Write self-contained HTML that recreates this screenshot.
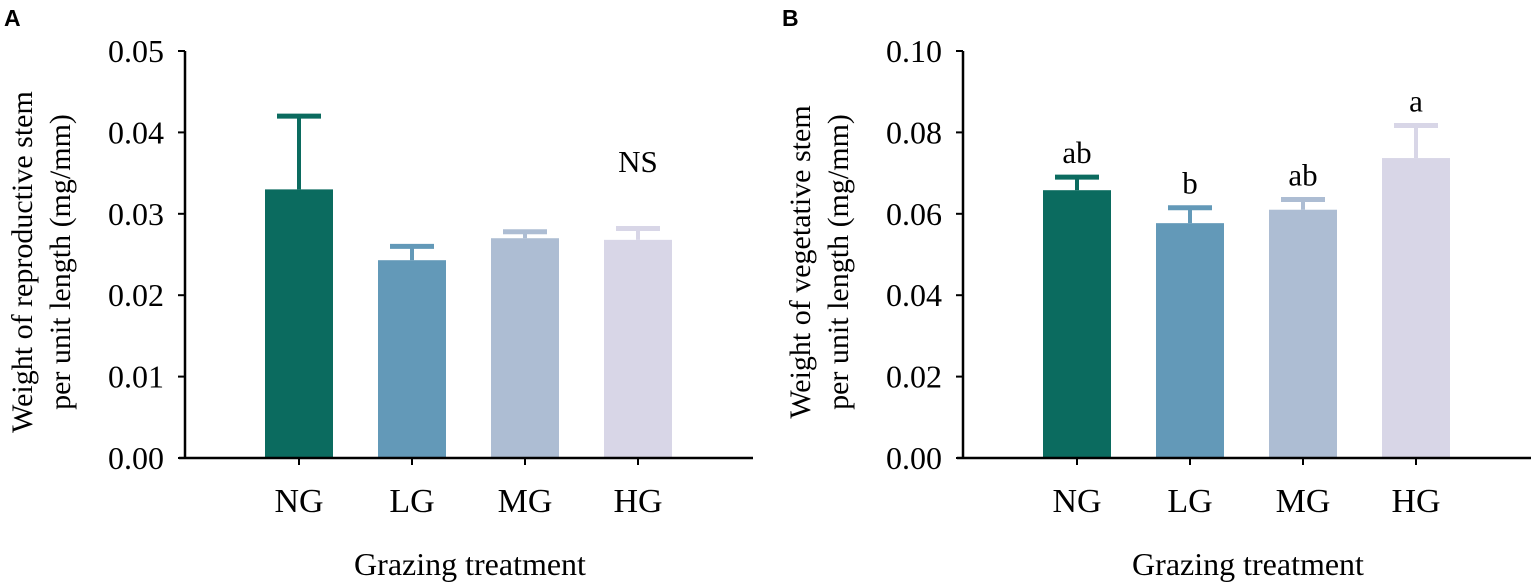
<!DOCTYPE html>
<html><head><meta charset="utf-8"><style>
body{margin:0;background:#fff;}
svg{display:block;font-family:"Liberation Serif",serif;}
</style></head><body>
<svg id="chart" width="1535" height="587" viewBox="0 0 1535 587" xmlns="http://www.w3.org/2000/svg"></svg>
<script>
const categories=["NG","LG","MG","HG"];
const colors=["#0b6b5f","#6399b8","#adbdd3","#d8d6e7"];
const valuesA=[0.033,0.0243,0.0270,0.0268];
const errA=[0.042,0.0260,0.0278,0.0282];
const ticksA=["0.00","0.01","0.02","0.03","0.04","0.05"];
const valuesB=[0.0658,0.0577,0.0610,0.0737];
const errB=[0.0690,0.0615,0.0635,0.0817];
const ticksB=["0.00","0.02","0.04","0.06","0.08","0.10"];
const lettersB=["ab","b","ab","a"];
const svg=document.getElementById('chart');
const NS="http://www.w3.org/2000/svg";
function mk(tag,attrs,parent,text){const e=document.createElementNS(NS,tag);for(const k in attrs)e.setAttribute(k,attrs[k]);if(text!==undefined)e.textContent=text;(parent||svg).appendChild(e);return e;}
function panel(cfg){
 const g=mk('g',{});
 
 
 const x0=cfg.x0,x1=cfg.x0+568,yTop=51,yBot=458,ymax=cfg.ymax;
 const y=v=>yBot-(v/ymax)*(yBot-yTop);
 const bx=i=>x0+80+i*113;
 const bw=68;
 categories.forEach((c,i)=>{
  const top=y(cfg.errs[i]),vy=y(cfg.vals[i]),cx=bx(i)+bw/2;
  const el=mk('line',{x1:cx,x2:cx,y1:top,y2:vy,stroke:colors[i],'stroke-width':4},g);
  
  
  const cap=mk('line',{x1:cx-22,x2:cx+22,y1:top,y2:top,stroke:colors[i],'stroke-width':5},g);
  
  
  const r=mk('rect',{x:bx(i),y:vy,width:bw,height:yBot-vy,fill:colors[i]},g);
  
  
  const xt=mk('line',{x1:cx,x2:cx,y1:yBot,y2:yBot+7,stroke:'#000','stroke-width':2},g);
  
  
  const t=mk('text',{x:cx,y:512,'font-size':34,'text-anchor':'middle'},g,c);
  
  
  if(cfg.letters){
   const l=mk('text',{x:cx,y:top-14,'font-size':31,'text-anchor':'middle'},g,cfg.letters[i]);
   
   
  }
 });
 const ya=mk('line',{x1:x0,x2:x0,y1:yTop,y2:yBot+1,stroke:'#000','stroke-width':2.5},g);
 
 const xa=mk('line',{x1:x0-6,x2:x1,y1:yBot,y2:yBot,stroke:'#000','stroke-width':2.5},g);
 
 cfg.ticks.forEach((tk,i)=>{
  const ty=y(parseFloat(tk));
  const tl=mk('line',{x1:x0-7,x2:x0,y1:ty,y2:ty,stroke:'#000','stroke-width':2},g);
  
  const tt=mk('text',{x:x0-21,y:ty+11,'font-size':32,'text-anchor':'end'},g,tk);
  
 });
 const xt=mk('text',{x:x0+285,y:575,'font-size':32,'text-anchor':'middle'},g,'Grazing treatment');
 
 const yt=mk('text',{transform:`translate(${x0-153},262) rotate(-90)`,'font-size':30,'text-anchor':'middle'},g);
 
 mk('tspan',{x:0,y:0},yt,cfg.title1);
 mk('tspan',{x:0,y:38},yt,'per unit length (mg/mm)');
 const pl=mk('text',{x:cfg.lx,y:26,'font-size':23,'font-weight':'bold','font-family':'Liberation Sans, sans-serif'},g,cfg.label);
 
 if(cfg.ns){const n=mk('text',{x:bx(3)+bw/2,y:172,'font-size':31,'text-anchor':'middle'},g,'NS');
  }
}
panel({name:'panel-a',x0:185,ymax:0.05,vals:valuesA,errs:errA,ticks:ticksA,title1:'Weight of reproductive stem',label:'A',lx:4,ns:true});
panel({name:'panel-b',x0:963,ymax:0.10,vals:valuesB,errs:errB,ticks:ticksB,title1:'Weight of vegetative stem',label:'B',lx:782,letters:lettersB});
</script>
</body></html>
